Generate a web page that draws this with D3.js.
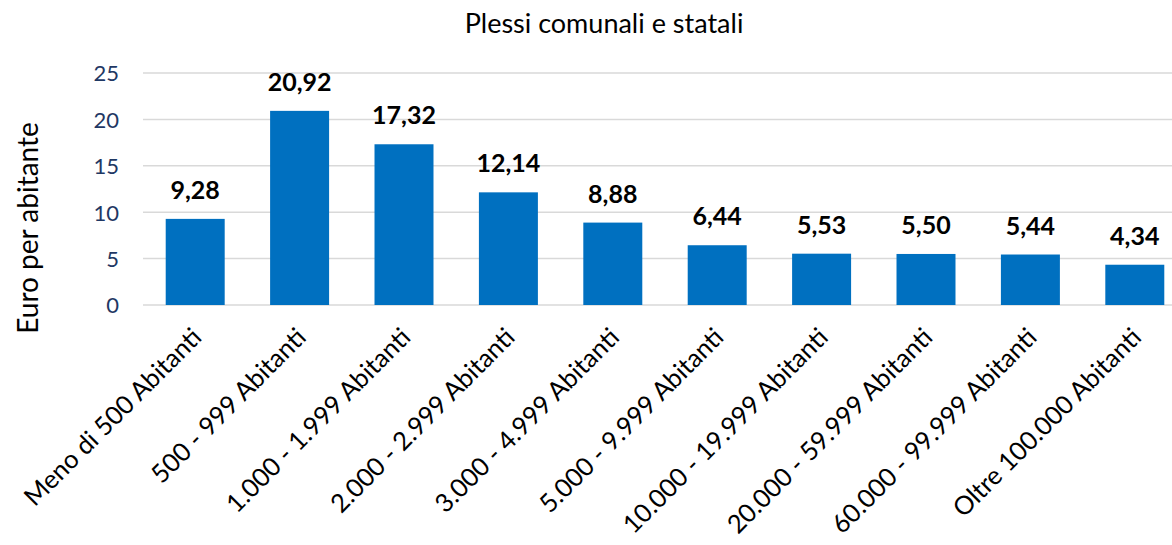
<!DOCTYPE html>
<html lang="it">
<head>
    <meta charset="UTF-8">
    <title>Plessi comunali e statali</title>
    <script src="https://cdn.jsdelivr.net/npm/d3@7"></script>
    <style>
        html, body {
            margin: 0;
            padding: 0;
            background: white;
            overflow: hidden;
        }

        svg text {
            font-family: Lato, "Open Sans", sans-serif;
        }
    </style>
</head>
<body>
<div id="chart"></div>
<script>
    let categorie = ["Meno di 500 Abitanti", "500 - 999 Abitanti", "1.000 - 1.999 Abitanti",
        "2.000 - 2.999 Abitanti", "3.000 - 4.999 Abitanti", "5.000 - 9.999 Abitanti",
        "10.000 - 19.999 Abitanti", "20.000 - 59.999 Abitanti", "60.000 - 99.999 Abitanti",
        "Oltre 100.000 Abitanti"];
    let valori = [9.28, 20.92, 17.32, 12.14, 8.88, 6.44, 5.53, 5.50, 5.44, 4.34];
    let yTicks = [0, 5, 10, 15, 20, 25];

    let width = 1172, height = 545;

    let svg = d3.select("#chart").append("svg")
        .attr("width", width)
        .attr("height", height);

    let x = d3.scaleBand()
        .domain(categorie)
        .range([143, 1187])
        .paddingInner(0.435)
        .paddingOuter(0.2175);

    let y = d3.scaleLinear()
        .domain([0, 25])
        .range([305, 73]);

    // griglia
    svg.append("g")
        .selectAll("line")
        .data(yTicks)
        .enter()
        .append("line")
        .attr("x1", 143)
        .attr("x2", width)
        .attr("y1", d => y(d))
        .attr("y2", d => y(d))
        .attr("stroke", "#d9d9d9")
        .attr("stroke-width", 1.5);

    // asse y
    let yAxis = svg.append("g")
        .attr("transform", "translate(119,0)")
        .call(d3.axisLeft(y).tickValues(yTicks).tickSize(0).tickPadding(0));
    yAxis.select(".domain").remove();
    yAxis.selectAll("text")
        .style("font-size", "22px")
        .attr("fill", "#1f3864")
        .attr("dy", "0.36em");

    // barre
    svg.append("g")
        .selectAll("rect")
        .data(valori)
        .enter()
        .append("rect")
        .attr("x", (d, i) => x(categorie[i]))
        .attr("y", d => y(d))
        .attr("width", x.bandwidth())
        .attr("height", d => y(0) - y(d))
        .attr("fill", "#0070c0");

    // etichette valori
    svg.append("g")
        .selectAll("text")
        .data(valori)
        .enter()
        .append("text")
        .attr("x", (d, i) => x(categorie[i]) + x.bandwidth() / 2)
        .attr("y", d => y(d) - 20)
        .attr("text-anchor", "middle")
        .style("font-size", "25px")
        .style("font-weight", "700")
        .attr("fill", "#000")
        .text(d => d.toFixed(2).replace(".", ","));

    // etichette categorie
    svg.append("g")
        .selectAll("text")
        .data(categorie)
        .enter()
        .append("text")
        .attr("transform", d => "translate(" + (x(d) + x.bandwidth() / 2 + 8) + ",339) rotate(-45)")
        .attr("text-anchor", "end")
        .style("font-size", "25.5px")
        .attr("fill", "#000")
        .text(d => d);

    // titolo asse y
    svg.append("text")
        .attr("transform", "translate(38,228) rotate(-90)")
        .attr("text-anchor", "middle")
        .style("font-size", "28px")
        .attr("fill", "#000")
        .text("Euro per abitante");

    // titolo
    svg.append("text")
        .attr("x", 604)
        .attr("y", 33)
        .attr("text-anchor", "middle")
        .style("font-size", "27px")
        .attr("fill", "#000")
        .text("Plessi comunali e statali");
</script>
</body>
</html>
